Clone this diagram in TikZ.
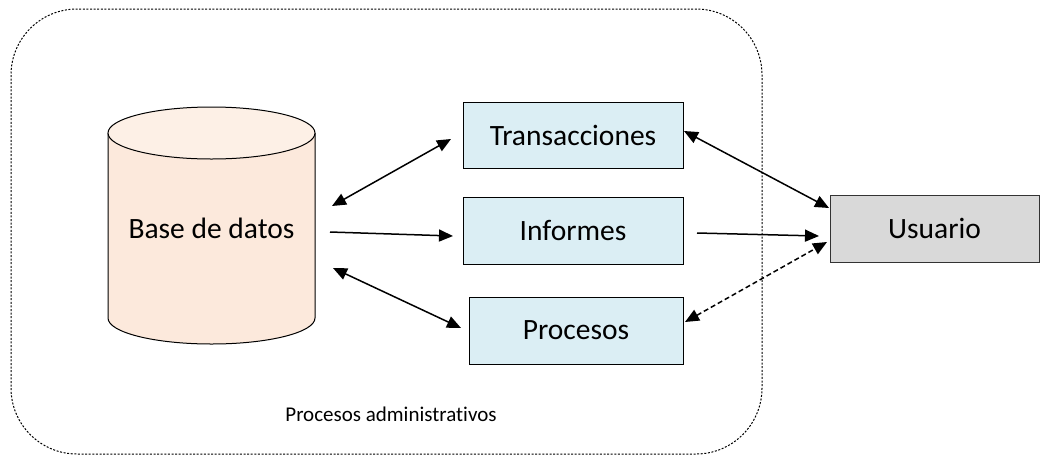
\documentclass[tikz,border=0pt]{standalone}
\usepackage{fontspec}
\setmainfont{Carlito}[Ligatures=NoCommon]
\usetikzlibrary{arrows.meta}
\definecolor{dbfill}{HTML}{FCE9DC}
\definecolor{boxfill}{HTML}{DBEEF4}
\definecolor{userfill}{HTML}{D9D9D9}
\tikzset{
  procbox/.style={draw=black, line width=1pt, fill=boxfill, inner sep=0pt, font=\fontsize{29.5}{34}\selectfont},
  userbox/.style={draw=black!80, line width=1pt, fill=userfill, inner sep=0pt, font=\fontsize{29.5}{34}\selectfont},
  conn/.style={line width=1.5pt, -{Triangle[length=14pt,width=12pt]}},
  biconn/.style={line width=1.5pt, {Triangle[length=14pt,width=12pt]}-{Triangle[length=14pt,width=12pt]}},
  container/.style={draw=black, line width=1pt, dash pattern=on 2pt off 1.6pt, rounded corners=66pt}
}
\begin{document}
\begin{tikzpicture}[x=1pt,y=-1pt]
\useasboundingbox (0,0) rectangle (1043,456);
% container
\draw[container] (11,9) rectangle (762,454);
\node[font=\fontsize{21}{25}\selectfont] (lbl) at (391,414) {Procesos administrativos};
% cylinder
\path[fill=dbfill, draw=black, line width=1pt] (108,133) -- (108,318) arc (180:360:103.5pt and 26pt) -- (315,133);
\path[fill=dbfill!70!white, draw=black, line width=1pt] (211.5,133) ellipse (103.5pt and 26pt);
\node[font=\fontsize{29.5}{34}\selectfont] (db) at (211.5,228) {Base de datos};
% boxes
\node[procbox, minimum width=220pt, minimum height=66pt] (tr) at (573,135) {Transacciones};
\node[procbox, minimum width=220pt, minimum height=67pt] (inf) at (573,230.5) {Informes};
\node[procbox, minimum width=214pt, minimum height=67pt] (pro) at (576,330.5) {Procesos};
\node[userbox, minimum width=209pt, minimum height=67pt] (us) at (934.5,228.5) {Usuario};
% connector endpoints
\coordinate (a1) at (332,206);
\coordinate (a2) at (451,139);
\coordinate (b1) at (330,232);
\coordinate (b2) at (453,236);
\coordinate (c1) at (333,268);
\coordinate (c2) at (461,328);
\coordinate (d1) at (684,131);
\coordinate (d2) at (829,208);
\coordinate (e1) at (697,233);
\coordinate (e2) at (819,236);
\coordinate (f1) at (685,322);
\coordinate (f2) at (827,242);
% connectors
\draw[biconn] (a1) -- (a2);
\draw[conn] (b1) -- (b2);
\draw[biconn] (c1) -- (c2);
\draw[biconn] (d1) -- (d2);
\draw[conn] (e1) -- (e2);
\draw[biconn, dash pattern=on 5pt off 3pt] (f1) -- (f2);
\end{tikzpicture}
\end{document}
